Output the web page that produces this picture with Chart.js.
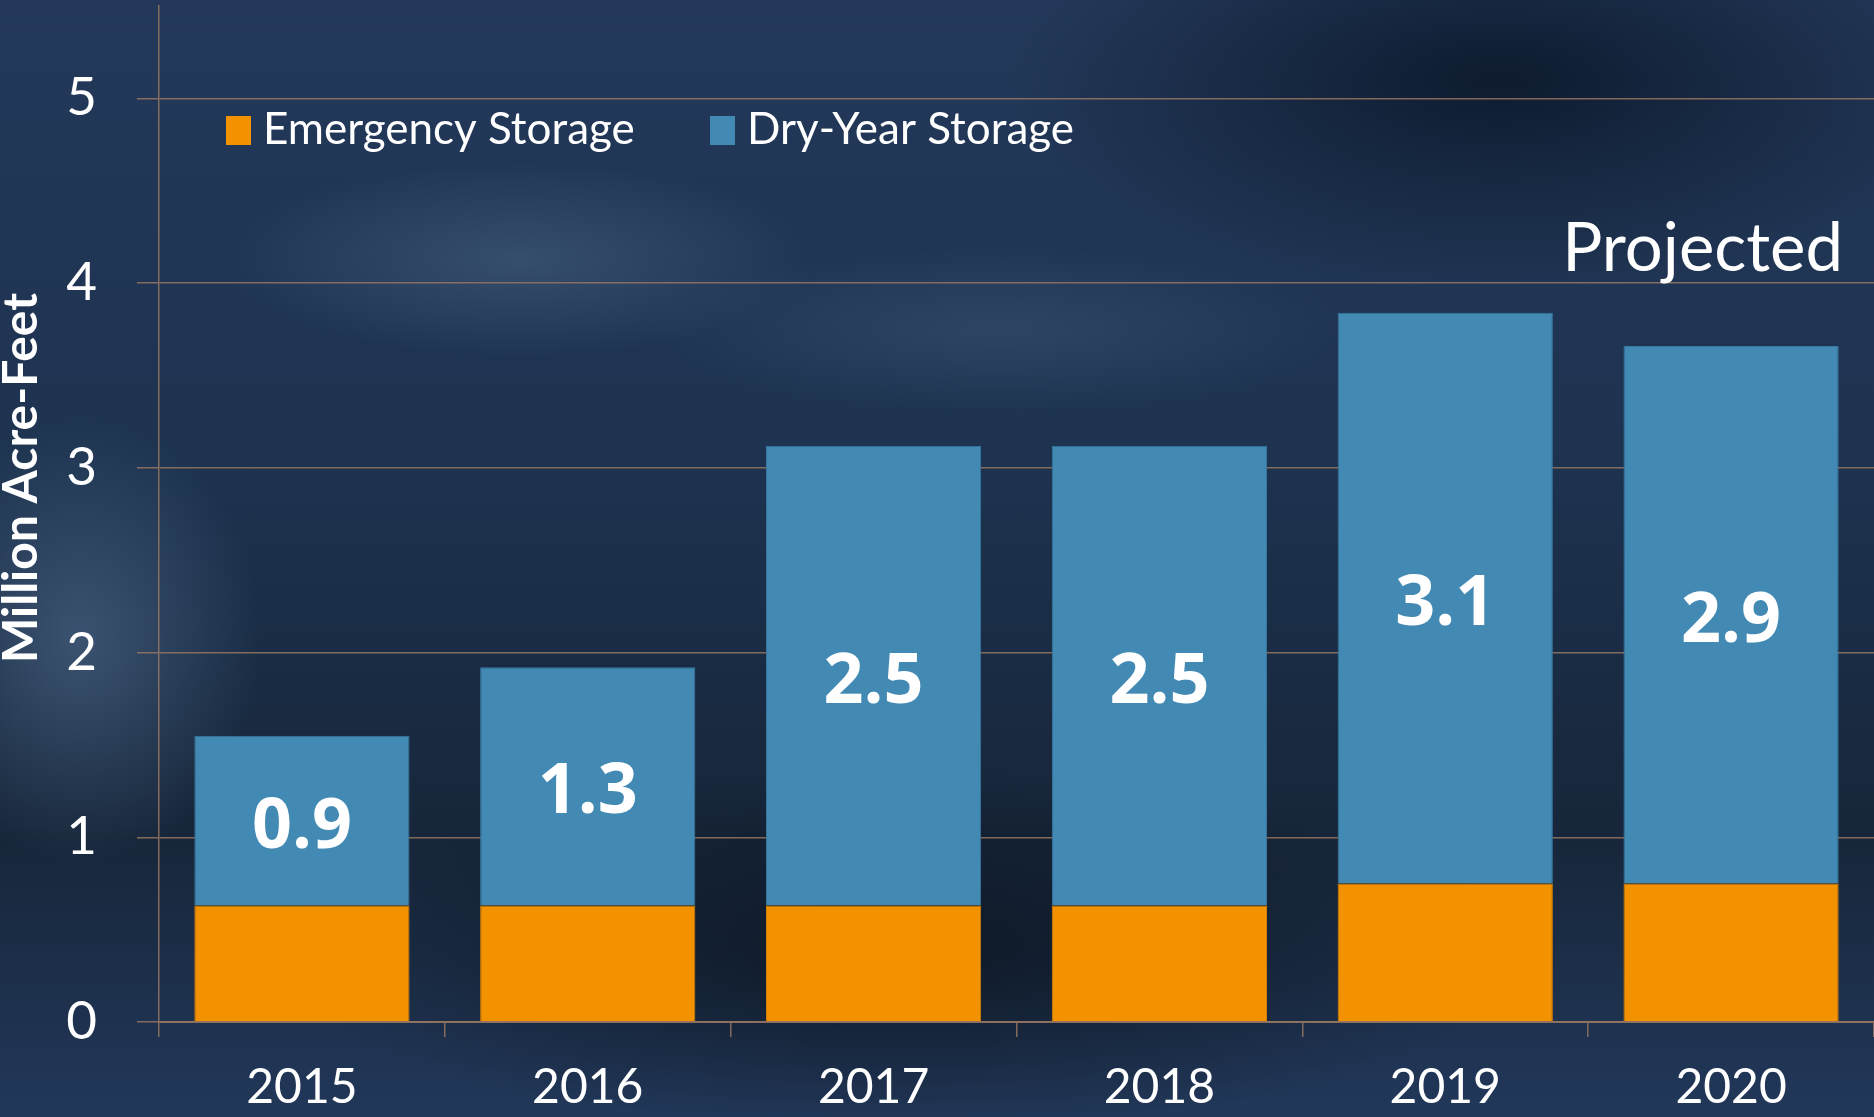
<!DOCTYPE html>
<html lang="en">
<head>
    <meta charset="UTF-8">
    <title>Storage</title>
    <script src="https://cdn.jsdelivr.net/npm/chart.js"></script>
    <style>
        html, body {
            margin: 0;
            padding: 0;
            overflow: hidden;
        }

        body {
            width: 1874px;
            height: 1117px;
            background:
                radial-gradient(ellipse 420px 140px at 520px 260px, rgba(95, 125, 155, 0.35), transparent 70%),
                radial-gradient(ellipse 500px 120px at 1000px 330px, rgba(90, 120, 150, 0.25), transparent 70%),
                radial-gradient(ellipse 260px 320px at 80px 640px, rgba(100, 130, 165, 0.45), transparent 70%),
                radial-gradient(ellipse 700px 300px at 1500px 80px, rgba(5, 15, 30, 0.7), transparent 70%),
                radial-gradient(ellipse 900px 260px at 900px 950px, rgba(10, 18, 28, 0.75), transparent 70%),
                linear-gradient(180deg, #24395a 0%, #1d3350 40%, #17263a 75%, #22385a 100%);
        }

        .chart-box {
            position: absolute;
            left: 0;
            top: 0;
            width: 1874px;
            height: 1117px;
        }
    </style>
</head>
<body>
    <div class="chart-box">
        <canvas id="storageChart"></canvas>
    </div>

    <script>
        const years = ['2015', '2016', '2017', '2018', '2019', '2020'];
        const emergencyStorage = [0.63, 0.63, 0.63, 0.63, 0.75, 0.75];
        const dryYearStorage = [0.92, 1.29, 2.49, 2.49, 3.09, 2.91];
        const seriesNames = ['Emergency Storage', 'Dry-Year Storage'];
        const yTickValues = [0, 1, 2, 3, 4, 5];
        const axisTitle = 'Million Acre-Feet';
        const noteText = 'Projected';

        const gridColor = 'rgba(150, 118, 96, 0.85)';

        // Labels in the middle of the dry-year segments
        const valueLabels = {
            id: 'valueLabels',
            afterDatasetsDraw(chart) {
                const ctx = chart.ctx;
                const meta = chart.getDatasetMeta(1);
                ctx.save();
                ctx.font = 'bold 70px "Open Sans"';
                ctx.fillStyle = '#ffffff';
                ctx.textAlign = 'center';
                ctx.textBaseline = 'middle';
                meta.data.forEach((bar, i) => {
                    const mid = (bar.y + bar.base) / 2;
                    ctx.fillText(dryYearStorage[i].toFixed(1), bar.x, mid + 7);
                });
                ctx.restore();
            }
        };

        // Legend, axis title and note
        const extras = {
            id: 'extras',
            afterDraw(chart) {
                const ctx = chart.ctx;
                const area = chart.chartArea;
                const y = chart.scales.y;
                ctx.save();

                // legend
                ctx.font = '44px Lato';
                ctx.textBaseline = 'middle';
                ctx.textAlign = 'left';
                const legendY = 130;
                const legendX = [226, 710];
                chart.data.datasets.forEach((ds, i) => {
                    ctx.fillStyle = ds.backgroundColor;
                    ctx.fillRect(legendX[i], legendY - 14, 25, 29);
                    ctx.fillStyle = '#ffffff';
                    ctx.fillText(ds.label, legendX[i] + 37, legendY, i === 0 ? 374 : 328);
                });

                // projected note
                ctx.font = '67px Lato';
                ctx.textAlign = 'right';
                ctx.textBaseline = 'alphabetic';
                ctx.fillText(noteText, area.right - 31, y.getPixelForValue(4) - 12, 284);

                // y title
                ctx.translate(22, 478);
                ctx.rotate(-Math.PI / 2);
                ctx.font = 'bold 48px Lato';
                ctx.textAlign = 'center';
                ctx.textBaseline = 'middle';
                ctx.fillText(axisTitle, 0, 0, 378);
                ctx.restore();
            }
        };

        const ctx = document.getElementById('storageChart').getContext('2d');
        new Chart(ctx, {
            type: 'bar',
            data: {
                labels: years,
                datasets: [{
                    label: seriesNames[0],
                    data: emergencyStorage,
                    backgroundColor: '#f39200',
                    borderColor: '#d98300',
                    borderWidth: 1,
                    categoryPercentage: 1,
                    barPercentage: 0.753
                }, {
                    label: seriesNames[1],
                    data: dryYearStorage,
                    backgroundColor: '#428ab4',
                    borderColor: '#3878a0',
                    borderWidth: 1,
                    categoryPercentage: 1,
                    barPercentage: 0.753
                }]
            },
            options: {
                responsive: true,
                maintainAspectRatio: false,
                animation: false,
                layout: {
                    padding: { top: 6, right: 0, left: 0, bottom: 0 }
                },
                plugins: {
                    legend: { display: false },
                    tooltip: { enabled: false }
                },
                scales: {
                    x: {
                        stacked: true,
                        grid: {
                            drawOnChartArea: false,
                            drawTicks: true,
                            tickLength: 15,
                            color: gridColor,
                            lineWidth: 1.5
                        },
                        border: { color: gridColor, width: 2 },
                        ticks: {
                            color: '#ffffff',
                            font: { family: 'Lato', size: 48 },
                            padding: 22
                        },
                        afterFit(scale) {
                            scale.height = 95;
                            scale.paddingLeft = 0;
                            scale.paddingRight = 0;
                        }
                    },
                    y: {
                        stacked: true,
                        min: 0,
                        max: 5.5,
                        grid: {
                            color: gridColor,
                            lineWidth: 1.5,
                            tickLength: 22
                        },
                        border: { color: gridColor, width: 1.5 },
                        ticks: {
                            color: '#ffffff',
                            font: { family: 'Lato', size: 53 },
                            padding: 40
                        },
                        afterBuildTicks(scale) {
                            scale.ticks = yTickValues.map(v => ({ value: v }));
                        },
                        afterFit(scale) {
                            scale.width = 159;
                            scale.paddingTop = 0;
                            scale.paddingBottom = 0;
                        }
                    }
                }
            },
            plugins: [valueLabels, extras]
        });
    </script>
</body>
</html>
